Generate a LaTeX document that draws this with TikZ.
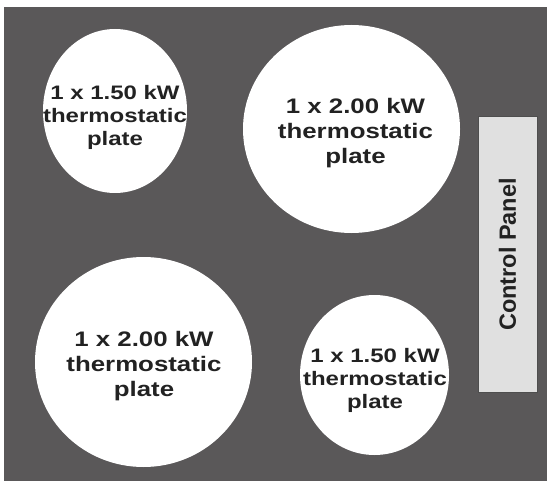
\documentclass[tikz,border=0pt]{standalone}
\usepackage{fontspec}
\newfontfamily\platefont{Liberation Sans}[FakeStretch=1.23]
\newfontfamily\panelfont{Liberation Sans}
\definecolor{hobgray}{HTML}{5A5859}
\definecolor{panelgray}{HTML}{E0E0E0}
\definecolor{inkgray}{HTML}{222222}
\begin{document}
\begin{tikzpicture}[x=1pt,y=-1pt,
  plate/.style={fill=white},
  bigtext/.style={align=center, inner sep=0pt, text=inkgray,
    font=\platefont\bfseries\fontsize{21}{25}\selectfont},
  smalltext/.style={align=center, inner sep=0pt, text=inkgray,
    font=\platefont\bfseries\fontsize{19.5}{23.2}\selectfont},
  panelbox/.style={draw=inkgray!80, line width=1pt, fill=panelgray, rotate=90,
    minimum width=275pt, minimum height=59pt, inner sep=0pt, text=inkgray,
    font=\panelfont\bfseries\fontsize{23.5}{27}\selectfont}]
\useasboundingbox (0,0) rectangle (551,481);
\fill[white] (0,0) rectangle (551,481);
\fill[hobgray] (4,7) rectangle (547,481);
% plates
\fill[plate] (115,111) ellipse [x radius=72, y radius=82];
\fill[plate] (351.5,129) ellipse [x radius=108.5, y radius=104];
\fill[plate] (143.5,362) ellipse [x radius=108.5, y radius=105];
\fill[plate] (374.5,375) ellipse [x radius=74.5, y radius=80];
% labels
\node[smalltext] (p1) at (115,117.5) {1 x 1.50 kW\\thermostatic\\plate};
\node[bigtext] (p2) at (355.5,133) {1 x 2.00 kW\\thermostatic\\plate};
\node[bigtext] (p3) at (144,366.5) {1 x 2.00 kW\\thermostatic\\plate};
\node[smalltext] (p4) at (375,380.5) {1 x 1.50 kW\\thermostatic\\plate};
% control panel
\node[panelbox] (panel) at (507.5,254.5) {Control Panel};
\end{tikzpicture}
\end{document}
